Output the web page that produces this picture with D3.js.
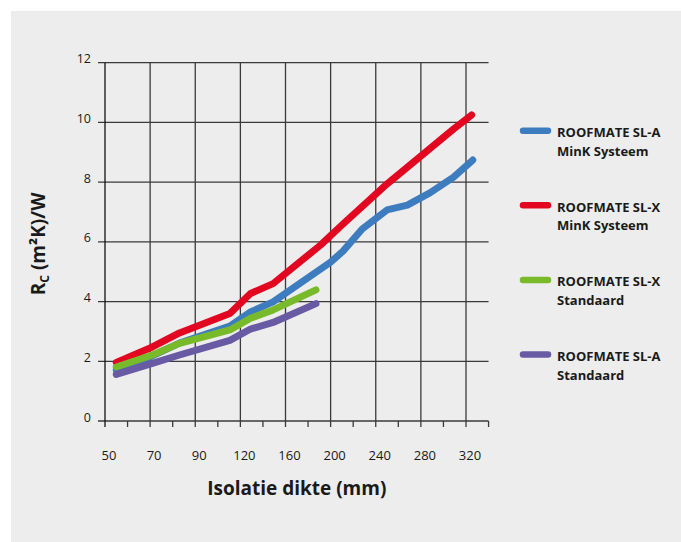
<!DOCTYPE html>
<html>
<head>
<meta charset="utf-8">
<script src="https://cdn.jsdelivr.net/npm/d3@7"></script>
<style>
  body { margin: 0; background: #fff; }
  svg { display: block; }
  text { font-family: "Open Sans", sans-serif; fill: #1a1a1a; }
</style>
</head>
<body>
<script>
// x axis labels (not evenly spaced in mm, but evenly spaced on the chart)
var xTicks = [50, 70, 90, 120, 160, 200, 240, 280, 320];
var yTicks = [0, 2, 4, 6, 8, 10, 12];

// thickness (mm) and Rc values
var slaMinkX = [55, 71, 83, 113, 129, 149, 200, 211, 228, 250, 268, 288, 309, 326];
var slaMinkY = [1.71, 2.18, 2.61, 3.18, 3.65, 3.99, 5.32, 5.69, 6.43, 7.07, 7.23, 7.64, 8.17, 8.74];

var slxMinkX = [55, 71, 83, 113, 129, 149, 191, 211, 250, 279, 309, 325];
var slxMinkY = [1.96, 2.48, 2.95, 3.60, 4.27, 4.60, 5.89, 6.60, 7.94, 8.84, 9.78, 10.25];

var slxStdX = [55, 71, 83, 113, 129, 149, 187];
var slxStdY = [1.81, 2.21, 2.60, 3.05, 3.44, 3.72, 4.39];

var slaStdX = [55, 71, 83, 113, 129, 149, 187];
var slaStdY = [1.56, 1.93, 2.21, 2.70, 3.08, 3.30, 3.93];

var seriesNames = [["ROOFMATE SL-A", "MinK Systeem"], ["ROOFMATE SL-X", "MinK Systeem"],
                   ["ROOFMATE SL-X", "Standaard"], ["ROOFMATE SL-A", "Standaard"]];
var seriesColors = ["#3e7cc0", "#e30620", "#78ba2a", "#685aa3"];

var W = 681, H = 542;

var svg = d3.select("body").append("svg")
            .attr("width", W)
            .attr("height", H);

svg.append("rect")
   .attr("x", 11).attr("y", 11)
   .attr("width", W - 11).attr("height", H - 11)
   .style("fill", "#ededed");

// index scale for the evenly spaced grid, value scale built on top of it
var xi = d3.scaleLinear().domain([0, xTicks.length - 1]).range([105, 466]);
var x = d3.scaleLinear().domain(xTicks).range(xTicks.map(function(d, i){ return xi(i); }));
var y = d3.scaleLinear().domain([0, 12]).range([421, 62.7]);

var gridColor = "#3a3a3a";
var grid = svg.append("g");

// horizontal grid lines
grid.selectAll("line.h")
    .data(yTicks)
    .enter().append("line")
    .attr("x1", 98).attr("x2", xi(8.5))
    .attr("y1", function(d){ return y(d); })
    .attr("y2", function(d){ return y(d); })
    .style("stroke", gridColor).style("stroke-width", 1.3);

// vertical grid lines
grid.selectAll("line.v")
    .data(xTicks)
    .enter().append("line")
    .attr("x1", function(d){ return x(d); })
    .attr("x2", function(d){ return x(d); })
    .attr("y1", y(12)).attr("y2", y(0) + 6)
    .style("stroke", function(d, i){ return i == 0 ? "#111" : gridColor; })
    .style("stroke-width", 1.3);

// minor ticks under the axis
grid.selectAll("line.m")
    .data(d3.range(0.5, 9, 1))
    .enter().append("line")
    .attr("x1", function(d){ return xi(d); })
    .attr("x2", function(d){ return xi(d); })
    .attr("y1", y(0)).attr("y2", y(0) + 6)
    .style("stroke", gridColor).style("stroke-width", 1.3);

// y tick labels
svg.selectAll("text.yt")
   .data(yTicks)
   .enter().append("text")
   .attr("x", 91)
   .attr("y", function(d){ return y(d) + 0.5; })
   .attr("text-anchor", "end")
   .style("font-size", "12.5px")
   .text(function(d){ return d; });

// x tick labels
svg.selectAll("text.xt")
   .data(xTicks)
   .enter().append("text")
   .attr("x", function(d){ return x(d) + 4; })
   .attr("y", 460)
   .attr("text-anchor", "middle")
   .style("font-size", "13px")
   .text(function(d){ return d; });

// axis titles
svg.append("text")
   .attr("x", (xi(0) + xi(8.5)) / 2)
   .attr("y", 495)
   .attr("text-anchor", "middle")
   .style("font-size", "19px")
   .style("font-weight", "bold")
   .text("Isolatie dikte (mm)");

var ylab = svg.append("text")
   .attr("transform", "translate(45," + ((y(0) + y(12)) / 2 + 2) + ") rotate(-90)")
   .attr("text-anchor", "middle")
   .style("font-size", "19px")
   .style("font-weight", "bold");
ylab.append("tspan").text("R");
ylab.append("tspan").attr("dy", 4).style("font-size", "12px").text("C");
ylab.append("tspan").attr("dy", -4).text(" (m²K)/W");

// data lines
var line = d3.line()
             .x(function(d){ return x(d[0]); })
             .y(function(d){ return y(d[1]); });

var series = [d3.zip(slaMinkX, slaMinkY), d3.zip(slxMinkX, slxMinkY),
              d3.zip(slxStdX, slxStdY), d3.zip(slaStdX, slaStdY)];
var drawOrder = [1, 0, 2, 3];

svg.selectAll("path.s")
   .data(drawOrder)
   .enter().append("path")
   .attr("d", function(i){ return line(series[i]); })
   .style("fill", "none")
   .style("stroke", function(i){ return seriesColors[i]; })
   .style("stroke-width", 7)
   .style("stroke-linecap", "round")
   .style("stroke-linejoin", "round");

// legend
var leg = svg.selectAll("g.leg")
             .data(seriesNames)
             .enter().append("g")
             .attr("transform", function(d, i){ return "translate(0," + (130.7 + i * 74.6) + ")"; });

leg.append("line")
   .attr("x1", 523).attr("x2", 548)
   .style("stroke", function(d, i){ return seriesColors[i]; })
   .style("stroke-width", 6.5)
   .style("stroke-linecap", "round");

leg.append("text")
   .attr("x", 557).attr("y", 6.5)
   .style("font-size", "13px")
   .style("font-weight", "bold")
   .text(function(d){ return d[0]; });

leg.append("text")
   .attr("x", 557).attr("y", 25)
   .style("font-size", "13px")
   .style("font-weight", "bold")
   .text(function(d){ return d[1]; });
</script>
</body>
</html>
